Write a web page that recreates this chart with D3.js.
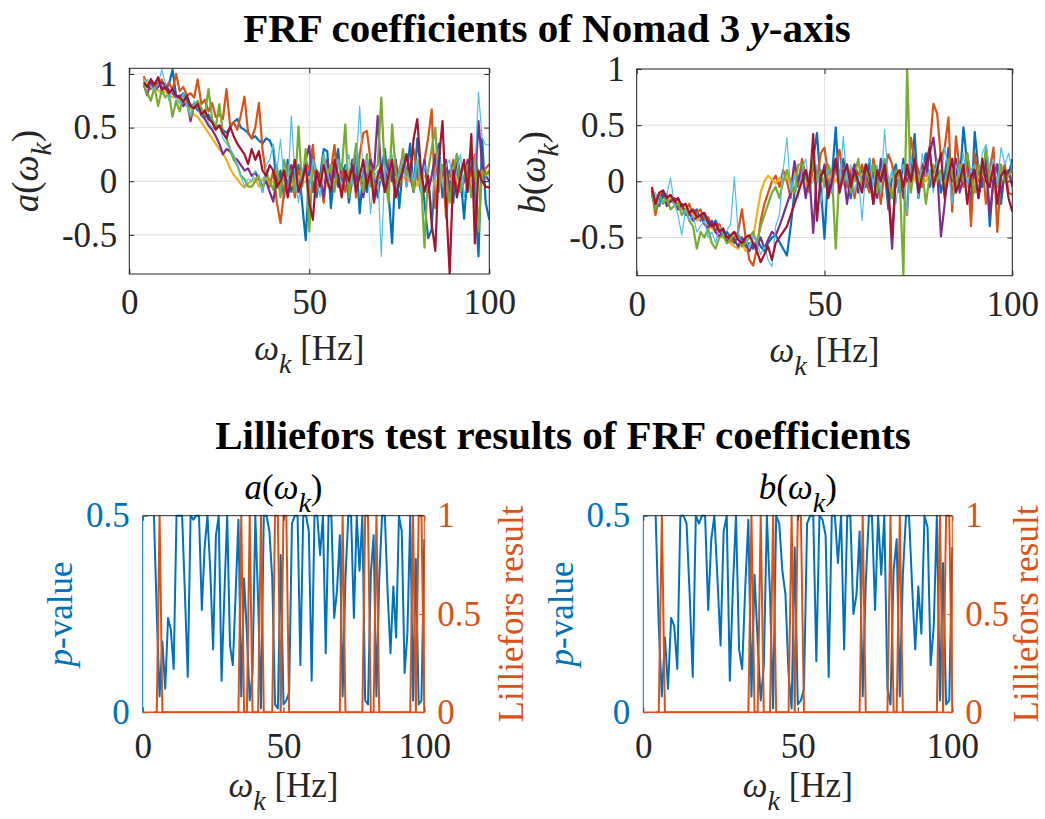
<!DOCTYPE html>
<html>
<head>
<meta charset="utf-8">
<script src="https://cdn.jsdelivr.net/npm/d3@7"></script>
<style>
body { margin: 0; background: #fff; }
svg { display: block; font-family: "Liberation Serif", "Times New Roman", serif; }
</style>
</head>
<body>
<script>
// frequencies (Hz)
var freq = [4,5,6,7,8,9,10,11,12,13,14,15,16,17,18,19,20,21,22,23,24,25,26,27,28,29,30,31,32,33,34,35,36,37,38,39,
  40,41,42,43,44,45,46,47,48,49,50,51,52,53,54,55,56,57,58,59,60,61,62,63,64,65,66,67,68,69,70,71,72,73,74,75,76,77,78,79,
  80,81,82,83,84,85,86,87,88,89,90,91,92,93,94,95,96,97,98,99,100];

// a(w_k), one array per measurement
var aBlue = [.95,.88,.90,.85,.92,.88, .86,.90,1.04,.80,.78,.82,.75,.70,.72,.66, .68,.60,.62,.55,.50,.52,.48,.45,.50,.55,
  .58,.50,.48,.45,.40,.42,.38,.35,.40,.38, .30,-.06,.10,-.15,.20,-.10,.05,.15,-.20,-.55, .10,.25,-.15,.05,.30,.28,-.25,.10,.30,-.05,
  .15,-.20,.05,.25,-.30,.10,-.10,.20,.05,-.15, .10,.30,-.10,-.58,.20,-.25,.15,.05,.35,-.10, .40,.10,-.20,-.53,-.45,.20,.35,-.15,.05,.10,
  -.20,.25,.05,-.35,.10,.30,-.10,-.70,.40,-.20, -.36];
var aOrange = [.98,.90,.86,.92,.88,.95, .86,.92,.85,1.00,.84,.88,.80,.82,.78,.95, .72,.76,.65,.73,.60,.62,.58,.86,.52,.55,
  .48,.62,.79,.45,.40,.50,.73,.30,.05,-.05, .10,-.20,-.39,-.10,.15,.05,-.15,.10,-.05,.20, .10,.34,-.10,.05,-.20,.15,.10,.34,-.05,.15,
  -.10,.05,.20,-.15,.25,.45,.47,.20,-.10,.05, .15,-.10,.20,.05,-.15,.10,.25,-.05,.15,.30, .05,-.10,.20,.40,.67,-.25,.10,.15,-.34,.05,
  .20,-.10,.05,.15,-.05,.10,.25,.05,.10,.12, .16];
var aYellow = [.95,.90,.88,.86,.85,.82, .84,.80,.78,.80,.75,.72,.70,.68,.62,.60, .55,.50,.45,.40,.35,.30,.26,.20,.12,.06,
  .02,-.03,-.06,-.02,.00,.03,-.05,.02,.05,-.03, .00,.04,-.02,.06,.00,-.04,.03,.05,-.02,.00, .04,-.03,.02,.06,.00,-.05,.03,.01,.05,-.02,
  .00,.04,-.03,.02,.05,.00,-.04,.03,.06,.00, .02,-.03,.05,.00,.04,-.02,.03,.06,.00,.02, -.04,.03,.05,.00,.02,-.03,.04,.00,.06,.02,
  .00,.05,-.02,.03,.06,.00,.04,.02,.08,.10, .06];
var aPurple = [.90,.80,.95,.85,.88,.92, .90,.85,.82,.78,.80,.70,.75,.56,.72,.68, .62,.58,.52,.48,.42,.35,.25,.30,.28,.22,
  .20,.15,.10,.12,.05,.08,.02,-.05,.00,-.10, -.19,.05,-.10,.10,-.05,.15,.00,-.10,.05,.20, .33,-.10,.10,.05,-.15,.20,.00,.10,-.05,.15,
  .05,-.10,.20,.00,.10,-.15,.05,.20,.10,.61, .05,-.10,.15,.00,.20,-.05,.10,.25,.05,-.10, .15,.00,.20,-.10,.05,.25,-.05,.10,.20,-.15,
  .05,.15,-.10,.00,.20,.10,-.05,.56,.15,.05, .00];
var aGreen = [.90,.82,.75,.88,.70,.85, .78,.82,.60,.75,.65,.80,.72,.60,.70,.75, .68,.62,.86,.58,.50,.72,.45,.40,.30,.20,
  .15,.05,.02,-.05,-.05,.00,.05,-.10,.10,.00, -.08,.15,-.15,.20,.05,.10,-.10,.51,-.05,.30, -.47,.20,.10,-.05,.25,.05,.15,-.10,.20,.10,
  .53,-.15,.10,.35,.05,-.10,.25,-.05,.10,.15, .78,.05,-.20,.53,.10,-.05,.30,.05,.15,-.10, .20,.05,-.62,.10,.30,.50,-.10,.15,.05,-.20,
  .10,.25,-.10,.05,.15,-.15,.20,-.47,.10,.05, .10];
var aLight = [.92,.95,.88,.85,.90,1.04, .92,.75,.85,.78,.72,.82,.70,.62,.75,.68, .60,.65,.55,.50,.48,.52,.40,.35,.30,.25,
  .15,.05,-.05,.02,.00,.10,.05,-.10,.15,.20, .35,.10,.39,.00,-.10,.61,.05,-.20,.10,.15, -.10,.20,.05,-.15,.25,.10,-.05,.15,.20,-.10,
  .10,.25,-.05,.15,.70,.00,.20,-.30,.05,.10, -.70,.15,.05,.25,-.10,.10,.20,-.05,.15,.00, .20,-.10,.15,.05,-.25,.10,.30,-.05,.15,.20,
  -.10,.10,.25,-.15,.05,.20,.10,.83,.40,.34, .34];
var aRed = [.92,.88,.95,.90,.97,.85, .88,.82,.86,.80,.78,.74,.80,.70,.68,.72, .62,.66,.58,.55,.48,.52,.45,.40,.51,.42,
  .35,.30,.25,.16,.30,.20,.28,.10,.05,.15, .10,-.05,.00,.10,-.15,.05,.20,-.10,.00,.15, -.20,-.36,.10,-.05,.15,.00,-.10,.20,.05,-.15,
  .10,.00,.15,-.10,.05,.20,-.05,.10,-.20,.05, .15,-.10,.05,.20,-.15,.00,.10,.25,.05,.40, .58,.10,-.10,.05,-.40,-.65,.20,.56,-.20,-.87,
  .10,-.15,.05,.20,-.10,.44,-.58,.10,.00,-.05, -.06];

// b(w_k)
var bBlue = [-.10,-.15,-.22,-.12,-.18,-.15, -.20,-.15,-.25,-.22,-.30,-.28,-.25,-.35,-.30,-.38, -.40,-.35,-.42,-.48,-.45,-.50,-.55,-.48,-.52,-.58,
  -.55,-.60,-.52,-.58,-.62,-.55,-.50,-.48,-.54,-.60, -.66,-.40,-.10,.00,.15,-.10,.05,.20,.43,-.05, -.51,.10,.05,.48,-.10,.20,.00,-.15,.15,.05,
  .10,-.05,.20,-.20,.00,.15,.10,-.25,.05,.15, -.10,.20,.00,.05,.42,-.15,.10,.25,-.05,.10, .15,-.10,.05,.30,-.20,.10,.00,.48,.15,-.25,
  .44,.10,-.05,.20,-.40,.05,.15,-.20,.10,.05, .20];
var bOrange = [-.08,-.30,-.15,-.10,-.12,-.18, -.15,-.20,-.22,-.25,-.20,-.30,-.28,-.25,-.35,-.32, -.40,-.45,-.38,-.48,-.52,-.55,-.50,-.45,-.25,-.50,
  -.70,-.75,-.60,-.35,-.20,-.10,.00,.05,-.05,.10, .00,-.15,.10,-.05,.20,.05,-.10,.15,.00,.25, .30,.05,-.10,.15,.28,.00,-.05,.10,-.15,.05,
  .15,.00,-.10,.20,.05,-.20,.10,.24,.15,-.05, .10,-.10,-.30,.39,.20,.10,-.05,.15,.30,.69, .60,.20,.30,.57,-.27,.40,.10,-.05,.20,-.40,
  .25,.00,.15,-.20,.10,.30,-.45,.05,.15,-.10, -.12];
var bYellow = [-.05,-.15,-.12,-.10,-.18,-.14, -.20,-.18,-.25,-.22,-.28,-.30,-.35,-.32,-.38,-.40, -.42,-.45,-.48,-.50,-.52,-.55,-.58,-.60,-.55,-.62,
  -.58,-.50,-.30,-.10,.00,.05,.02,-.02,.03,.00, .05,-.03,.08,.00,.04,-.05,.06,.02,.00,.05, -.02,.04,.08,.00,.05,-.03,.06,.02,.00,.04,
  .05,.10,.00,.04,-.02,.06,.08,.00,.05,.02, .04,.00,.06,.10,.02,-.04,.05,.00,.08,.03, .06,.02,.00,.05,.08,.00,.04,.06,.02,.05,
  .00,.04,.06,.02,.00,.05,.03,.08,.04,.00, .05];
var bPurple = [-.12,-.20,-.15,-.10,-.22,-.18, -.15,-.25,-.20,-.30,-.28,-.35,-.32,-.30,-.38,-.42, -.35,-.45,-.50,-.42,-.55,-.48,-.52,-.58,-.50,-.55,
  -.62,-.55,-.58,-.50,-.60,-.52,-.45,-.48,-.40,-.30, -.20,-.10,.18,.00,.10,-.15,.05,-.46,.10,.00, .15,-.10,.05,.20,-.05,.10,-.20,.05,.15,-.10,
  .00,.15,-.05,.10,-.15,.20,.05,-.10,-.60,.10, .05,-.15,.10,.00,.20,-.05,.15,.05,.25,.39, .10,-.49,-.20,.15,.00,.20,-.10,.05,.25,-.05,
  .10,-.15,.05,.20,-.30,.00,.15,-.10,.05,.10, -.05];
var bGreen = [-.10,-.25,-.12,-.20,-.15,-.25, -.22,-.20,-.30,-.25,-.35,-.40,-.60,-.45,-.50,-.42, -.55,-.60,-.50,-.48,-.55,-.52,-.45,-.50,-.58,-.55,
  -.50,-.45,-.55,-.40,-.30,-.20,-.10,-.05,-.15,.00, .10,.00,-.10,.15,.15,.05,-.05,.20,.00,.10, -.05,.15,.05,-.60,.10,.00,.15,-.10,.05,.20,
  -.05,.10,.00,.15,-.10,.05,.20,.00,-.15,.10, .05,-.84,1.00,-.10,.15,.00,.10,-.20,.05,.15, .00,.10,-.10,.20,.05,-.05,.15,.00,.25,.05,
  -.10,.15,.05,.30,.00,.10,-.05,.15,.00,.05, .10];
var bLight = [-.15,-.10,-.20,-.18,-.12,.03, -.20,-.30,-.48,-.25,-.35,-.30,-.45,-.40,-.35,-.50, -.45,-.55,-.40,-.48,-.44,-.38,.04,-.45,-.55,-.50,
  -.60,-.48,-.55,-.65,-.58,-.70,-.76,-.40,-.30,.10, .39,-.10,.05,-.15,.10,.20,-.05,.00,.15,-.20, .05,.10,-.10,.20,-.05,.40,.00,.15,-.10,.05,
  -.35,.10,.20,-.05,.15,-.10,.46,.00,.10,-.20, .05,.15,-.30,.20,.10,-.15,.25,.05,.10,-.10, .20,.00,.30,.10,-.20,.15,.05,.25,-.05,.10,
  .15,-.10,.25,.33,.10,.20,-.05,.30,.15,.25, .10];
var bRed = [-.05,-.20,-.10,-.08,-.15,-.12, -.18,-.15,-.22,-.20,-.28,-.25,-.32,-.30,-.28,-.35, -.40,-.38,-.45,-.42,-.50,-.48,-.45,-.52,-.55,-.50,
  -.48,-.55,-.62,-.72,-.65,-.58,-.70,-.55,-.50,-.45, -.40,-.30,-.20,-.10,.00,.10,-.05,.42,-.35,.05, .10,-.15,.00,.20,-.10,.05,.15,-.05,.10,.00,
  -.10,.15,.05,-.20,.10,.00,.15,-.10,-.50,.05, .10,-.05,.15,.00,.20,-.10,.05,.15,.30,-.05, .10,.25,-.15,.05,.20,-.10,.00,.15,-.20,.05,
  .10,-.15,.20,.00,-.05,.15,-.20,.05,.10,-.15, -.27];

// Lilliefors p-values and test results
var pA = [.50,.25,.04,.18,.06,.24, .21,.11,.50,.50,.50,.30,.09,.50,.49,.50, .50,.26,.42,.50,.36,.16,.45,.50,.08,.30,
  .50,.17,.12,.30,.49,.04,.34,.20,.03,.10, .50,.28,.01,.50,.50,.46,.34,.02,.01,.40, .02,.03,.05,.48,.50,.50,.12,.50,.50,.46,
  .08,.50,.50,.40,.50,.15,.50,.50,.24,.31, .45,.04,.34,.50,.50,.24,.50,.36,.50,.03, .02,.35,.45,.04,.34,.50,.50,.30,.15,.32,
  .19,.50,.46,.10,.20,.50,.03,.39,.02,.03, .44];
var resA = [0,0,1,0,0,0, 0,0,0,0,0,0,0,0,0,0, 0,0,0,0,0,0,0,0,0,0, 0,0,0,0,0,1,0,0,1,0, 0,0,1,0,0,0,0,1,1,0,
  1,1,0,0,0,0,0,0,0,0, 0,0,0,0,0,0,0,0,0,0, 0,1,0,0,0,0,0,0,0,1, 1,0,0,1,0,0,0,0,0,0, 0,0,0,0,0,0,1,0,1,1, 0];
var pB = [.50,.22,.04,.19,.06,.24, .22,.11,.50,.50,.48,.30,.09,.50,.48,.50, .50,.26,.44,.50,.34,.17,.46,.50,.08,.32,
  .50,.16,.11,.32,.49,.04,.35,.18,.03,.12, .50,.30,.01,.50,.48,.36,.30,.10,.01,.42, .02,.03,.06,.48,.50,.50,.13,.50,.49,.45,
  .09,.50,.50,.38,.50,.16,.50,.50,.25,.30, .46,.04,.33,.50,.50,.26,.50,.35,.50,.06, .02,.36,.44,.04,.35,.50,.50,.32,.16,.32,
  .20,.50,.47,.12,.22,.50,.03,.38,.02,.03, .42];
var resB = [0,0,1,0,0,0, 0,0,0,0,0,0,0,0,0,0, 0,0,0,0,0,0,0,0,0,0, 0,0,0,0,0,1,0,0,1,0, 0,0,1,0,0,0,0,0,1,0,
  1,1,0,0,0,0,0,0,0,0, 0,0,0,0,0,0,0,0,0,0, 0,1,0,0,0,0,0,0,0,0, 1,0,0,1,0,0,0,0,0,0, 0,0,0,0,0,0,1,0,1,1, 0];

var xTicks = [0, 50, 100];
var coefTicks = [-0.5, 0, 0.5, 1];
var pTicks = [0, 0.5];
var resTicks = [0, 0.5, 1];

var colors = ['#0072BD', '#D95319', '#EDB120', '#7E2F8E', '#77AC30', '#4DBEEE', '#A2142F'];
var BLUE = '#0072BD', ORANGE = '#D95319', INK = '#262626';
var FS = 35;

var svg = d3.select('body').append('svg').attr('width', 1045).attr('height', 819);

// text made of pieces, subscripts dropped below the baseline
var richText = function(g, parts, size){
  var t = g.append('text').attr('font-size', size);
  var shift = 0;
  parts.forEach(function(p){
    var s = t.append('tspan').text(p.t);
    if (p.it) s.attr('font-style', 'italic');
    var want = p.sub ? 13 : 0;
    if (want !== shift) s.attr('dy', want - shift);
    shift = want;
    if (p.sub) s.attr('font-size', size * 0.8);
  });
  return t;
};
var omegaK = [{t:'ω', it:true}, {t:'k', it:true, sub:true}];
var xLabelParts = omegaK.concat([{t:' [Hz]'}]);
var funcParts = function(letter){
  return [{t:letter, it:true}, {t:'('}].concat(omegaK, [{t:')'}]);
};

var styleAxis = function(g, color){
  g.select('.domain').remove();
  g.attr('font-family', null).attr('font-size', FS);
  g.selectAll('line').attr('stroke', color).attr('stroke-width', 1);
  g.selectAll('text').attr('fill', color);
};

var drawCoef = function(o){
  var x = d3.scaleLinear().domain([0, 100]).range([o.left, o.right]);
  var y = d3.scaleLinear().domain(o.yDomain).range([o.bottom, o.top]);
  var g = svg.append('g');

  g.selectAll('.gx').data(xTicks).join('line')
    .attr('x1', x).attr('x2', x).attr('y1', o.top).attr('y2', o.bottom)
    .attr('stroke', '#e1e1e1');
  g.selectAll('.gy').data(coefTicks).join('line')
    .attr('y1', y).attr('y2', y).attr('x1', o.left).attr('x2', o.right)
    .attr('stroke', '#e1e1e1');

  g.append('clipPath').attr('id', o.id).append('rect')
    .attr('x', o.left).attr('y', o.top).attr('width', o.right - o.left).attr('height', o.bottom - o.top);

  var line = d3.line().x(function(d, i){ return x(freq[i]); }).y(function(d){ return y(d); });
  o.series.forEach(function(s, i){
    g.append('path').attr('clip-path', 'url(#' + o.id + ')')
      .attr('d', line(s)).attr('fill', 'none')
      .attr('stroke', colors[i]).attr('stroke-width', i === 5 ? 1.2 : 2.2)
      .attr('stroke-linejoin', 'round');
  });

  g.append('g').attr('transform', 'translate(0,' + o.bottom + ')')
    .call(d3.axisBottom(x).tickValues(xTicks).tickSizeInner(-5).tickSizeOuter(0).tickPadding(15))
    .call(styleAxis, INK);
  g.append('g').attr('transform', 'translate(0,' + o.top + ')')
    .call(d3.axisTop(x).tickValues(xTicks).tickSizeInner(-5).tickSizeOuter(0).tickFormat(''))
    .call(styleAxis, INK);
  g.append('g').attr('transform', 'translate(' + o.left + ',0)')
    .call(d3.axisLeft(y).tickValues(coefTicks).tickSizeInner(-5).tickSizeOuter(0).tickPadding(12).tickFormat(String))
    .call(styleAxis, INK);
  g.append('g').attr('transform', 'translate(' + o.right + ',0)')
    .call(d3.axisRight(y).tickValues(coefTicks).tickSizeInner(-5).tickSizeOuter(0).tickFormat(''))
    .call(styleAxis, INK);

  g.append('rect').attr('x', o.left).attr('y', o.top)
    .attr('width', o.right - o.left).attr('height', o.bottom - o.top)
    .attr('fill', 'none').attr('stroke', INK).attr('stroke-width', 1);

  richText(g, xLabelParts, FS).attr('x', (o.left + o.right) / 2).attr('y', o.bottom + 86)
    .attr('text-anchor', 'middle').attr('fill', INK);
  richText(g, funcParts(o.letter), FS + 2).attr('text-anchor', 'middle').attr('fill', INK)
    .attr('transform', 'translate(' + o.yLabelX + ',' + (o.top + o.bottom) / 2 + ') rotate(-90)');
};

var drawTest = function(o){
  var x = d3.scaleLinear().domain([0, 100]).range([o.left, o.right]);
  var yP = d3.scaleLinear().domain([0, 0.5]).range([o.bottom, o.top]);
  var yR = d3.scaleLinear().domain([0, 1]).range([o.bottom, o.top]);
  var g = svg.append('g');

  var lineP = d3.line().x(function(d, i){ return x(freq[i]); }).y(function(d){ return yP(d); });
  var lineR = d3.line().x(function(d, i){ return x(freq[i]); }).y(function(d){ return yR(d); });

  g.append('path').attr('d', lineP(o.p)).attr('fill', 'none')
    .attr('stroke', BLUE).attr('stroke-width', 2).attr('stroke-linejoin', 'round');
  g.append('path').attr('d', lineR(o.res)).attr('fill', 'none')
    .attr('stroke', ORANGE).attr('stroke-width', 2).attr('stroke-linejoin', 'round');

  g.append('g').attr('transform', 'translate(0,' + o.bottom + ')')
    .call(d3.axisBottom(x).tickValues(xTicks).tickSizeInner(-5).tickSizeOuter(0).tickPadding(21))
    .call(styleAxis, INK);
  g.append('g').attr('transform', 'translate(0,' + o.top + ')')
    .call(d3.axisTop(x).tickValues(xTicks).tickSizeInner(-5).tickSizeOuter(0).tickFormat(''))
    .call(styleAxis, INK);
  g.append('g').attr('transform', 'translate(' + o.left + ',0)')
    .call(d3.axisLeft(yP).tickValues(pTicks).tickSizeInner(-5).tickSizeOuter(0).tickPadding(13).tickFormat(String))
    .call(styleAxis, BLUE);
  g.append('g').attr('transform', 'translate(' + o.right + ',0)')
    .call(d3.axisRight(yR).tickValues(resTicks).tickSizeInner(-5).tickSizeOuter(0).tickPadding(13).tickFormat(String))
    .call(styleAxis, ORANGE);

  g.append('line').attr('x1', o.left).attr('x2', o.right).attr('y1', o.top).attr('y2', o.top).attr('stroke', INK);
  g.append('line').attr('x1', o.left).attr('x2', o.right).attr('y1', o.bottom).attr('y2', o.bottom).attr('stroke', ORANGE).attr('stroke-width', 1.5);
  g.append('line').attr('x1', o.left).attr('x2', o.left).attr('y1', o.top).attr('y2', o.bottom).attr('stroke', BLUE);
  g.append('line').attr('x1', o.right).attr('x2', o.right).attr('y1', o.top).attr('y2', o.bottom).attr('stroke', ORANGE);

  richText(g, funcParts(o.letter), FS).attr('x', (o.left + o.right) / 2).attr('y', o.top - 17)
    .attr('text-anchor', 'middle').attr('fill', '#000');
  richText(g, xLabelParts, FS).attr('x', (o.left + o.right) / 2).attr('y', o.bottom + 85)
    .attr('text-anchor', 'middle').attr('fill', INK);

  var mid = (o.top + o.bottom) / 2;
  richText(g, [{t:'p', it:true}, {t:'-value'}], FS).attr('text-anchor', 'middle').attr('fill', BLUE)
    .attr('transform', 'translate(' + o.pLabelX + ',' + mid + ') rotate(-90)');
  g.append('text').text('Lilliefors result').attr('font-size', FS).attr('text-anchor', 'middle').attr('fill', ORANGE)
    .attr('transform', 'translate(' + o.rLabelX + ',' + mid + ') rotate(-90)');
};

var renderChart = function(){
  svg.append('text').attr('x', 547).attr('y', 42).attr('text-anchor', 'middle')
    .attr('font-size', 41).attr('font-weight', 'bold')
    .call(function(t){
      t.append('tspan').text('FRF coefficients of Nomad 3 ');
      t.append('tspan').text('y').attr('font-style', 'italic');
      t.append('tspan').text('-axis');
    });
  svg.append('text').attr('x', 563).attr('y', 449).attr('text-anchor', 'middle')
    .attr('font-size', 41).attr('font-weight', 'bold')
    .text('Lilliefors test results of FRF coefficients');

  drawCoef({id: 'clipA', left: 129.3, right: 489.3, top: 68.3, bottom: 274, yDomain: [-0.865, 1.053],
    series: [aBlue, aOrange, aYellow, aPurple, aGreen, aLight, aRed], letter: 'a', yLabelX: 38});
  drawCoef({id: 'clipB', left: 636.7, right: 1012.3, top: 69, bottom: 275.7, yDomain: [-0.84, 1.0],
    series: [bBlue, bOrange, bYellow, bPurple, bGreen, bLight, bRed], letter: 'b', yLabelX: 545});

  drawTest({left: 142.7, right: 424.3, top: 515.7, bottom: 712.3, p: pA, res: resA, letter: 'a',
    pLabelX: 72, rLabelX: 523});
  drawTest({left: 643.3, right: 952.3, top: 515.7, bottom: 712.3, p: pB, res: resB, letter: 'b',
    pLabelX: 573, rLabelX: 1038});
};

window.onload = renderChart;
</script>
</body>
</html>
